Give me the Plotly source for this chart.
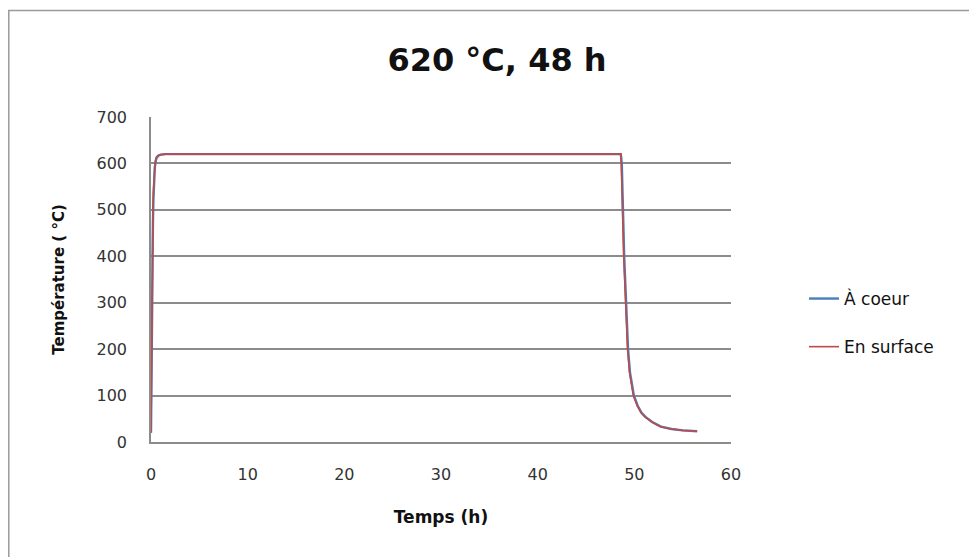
import plotly.graph_objects as go

# time (h) and temperature (°C)
core_t = [0, 0.05, 0.1, 0.15, 0.2, 0.25, 0.3, 0.4, 0.5, 0.6, 0.8, 1.0, 1.5, 2,
          10, 20, 30, 40, 48.6, 48.7, 48.8, 48.95, 49.15, 49.35, 49.55, 49.95,
          50.35, 50.75, 51.15, 51.85, 52.75, 53.85, 55, 56.5]
core_temp = [20, 170, 300, 400, 470, 525, 560, 592, 606, 613, 617, 619, 620, 620,
             620, 620, 620, 620, 620, 600, 500, 400, 300, 200, 150, 100,
             78, 63, 54, 43, 33, 28, 25, 23]

surf_t = [0, 0.05, 0.1, 0.15, 0.2, 0.25, 0.3, 0.4, 0.5, 0.6, 0.8, 1.0, 1.5, 2,
          10, 20, 30, 40, 48.6, 48.65, 48.75, 48.9, 49.1, 49.3, 49.5, 49.9,
          50.3, 50.7, 51.1, 51.8, 52.7, 53.8, 55, 56.5]
surf_temp = [20, 200, 330, 420, 490, 540, 570, 598, 610, 615, 618, 619, 620, 620,
             620, 620, 620, 620, 620, 600, 500, 400, 300, 200, 150, 100,
             78, 63, 54, 43, 33, 28, 25, 23]

fig = go.Figure()
fig.add_trace(go.Scatter(x=core_t, y=core_temp, mode='lines', name='À coeur',
                         legendgroup='a', line=dict(color='#4a7ebb', width=2.4)))
fig.add_trace(go.Scatter(x=surf_t, y=surf_temp, mode='lines', name='En surface',
                         legendgroup='b', line=dict(color='#be4b48', width=1.6)))

# page body has an 8px margin, so work in figure coordinates = screen - 8
off = 8
W, H = 977 - off, 557 - off
L, T = 151 - off, 117 - off
x_right, y_bottom = 731 - off, 442 - off
R, B = W - x_right, H - y_bottom
pw, ph = x_right - L, y_bottom - T

fig.update_layout(
    width=W, height=H,
    margin=dict(l=L, r=R, t=T, b=B),
    paper_bgcolor='white', plot_bgcolor='white',
    font=dict(family='DejaVu Sans', size=16, color='#333'),
    title=dict(text='<b>620 °C, 48 h</b>', x=(497 - off) / W, y=1 - (60 - off) / H,
               xanchor='center', yanchor='middle',
               font=dict(family='DejaVu Sans', size=32, color='#111')),
    showlegend=True,
    legend=dict(x=(804 - off - L) / pw, y=(y_bottom - (281 - off)) / ph,
                xanchor='left', yanchor='top',
                font=dict(family='DejaVu Sans', size=17, color='#111'),
                tracegroupgap=23, itemwidth=30, bgcolor='rgba(0,0,0,0)'),
    shapes=[dict(type='rect', xref='paper', yref='paper',
                 x0=(0.8 - L) / pw, x1=(W + 20 - L) / pw,
                 y0=-(H + 20 - y_bottom) / ph, y1=(y_bottom - 2.5) / ph,
                 line=dict(color='#9a9a9a', width=1.5), layer='below')],
)
fig.update_xaxes(range=[0, 60], dtick=10, showgrid=False, zeroline=False,
                 showline=True, linecolor='#8c8c8c', linewidth=1.5, ticks='',
                 ticklabelstandoff=17,
                 title=dict(text='<b>Temps (h)</b>', standoff=28,
                            font=dict(family='DejaVu Sans', size=17, color='#111')))
fig.update_yaxes(range=[0, 700], dtick=100, showgrid=True, gridcolor='#8c8c8c',
                 gridwidth=1.5, zeroline=False, showline=True, linecolor='#8c8c8c',
                 linewidth=1.5, ticks='', ticklabelstandoff=19,
                 title=dict(text='<b>Température ( °C)</b>', standoff=28,
                            font=dict(family='DejaVu Sans', size=15, color='#111')))

fig.write_html("out.html")
